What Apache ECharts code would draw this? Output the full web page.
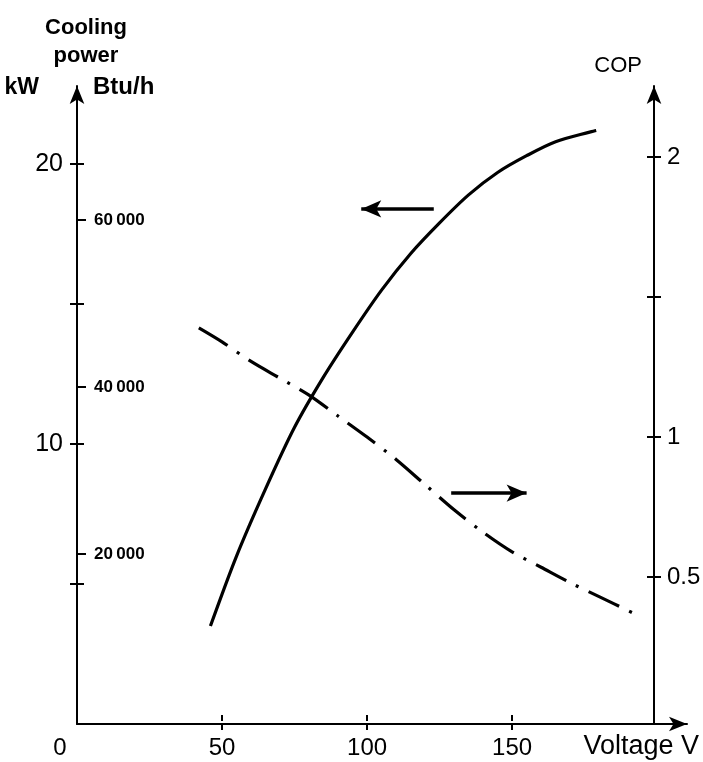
<!DOCTYPE html>
<html>
<head>
<meta charset="utf-8">
<script src="https://cdn.jsdelivr.net/npm/echarts@6/dist/echarts.min.js"></script>
<style>
  html, body { margin: 0; padding: 0; background: #fff; }
  #chart { width: 703px; height: 762px; }
</style>
</head>
<body>
<div id="chart"></div>
<script>
// cooling power (kW) vs voltage
const powerVoltage = [46, 55, 65, 75, 85, 95, 105, 115, 125, 135, 145, 155, 165, 179];
const powerKW = [3.5, 6.0, 8.4, 10.6, 12.4, 14.0, 15.5, 16.8, 17.9, 18.9, 19.7, 20.3, 20.8, 21.2];

// COP vs voltage
const copVoltage = [42, 50, 60, 70, 80, 90, 100, 110, 120, 130, 140, 150, 160, 170, 180, 192];
const copValues = [1.39, 1.34, 1.27, 1.21, 1.15, 1.075, 1.0, 0.92, 0.83, 0.74, 0.66, 0.59, 0.535, 0.48, 0.43, 0.37];

// arrows pointing to each curve's axis: [from V, to V, level]
const powerArrow = [123, 98, 18.4];
const copArrow = [129, 155, 0.80];

const voltageTicks = [50, 100, 150];
const voltageLabels = [0, 50, 100, 150];
const kwTicks = [5, 10, 15, 20];
const kwLabels = [10, 20];
const btuTicks = [20000, 40000, 60000];
const copTicks = [0.5, 1, 1.5, 2];
const copLabels = [0.5, 1, 2];

const FONT = 'Liberation Sans, Arial, sans-serif';
const INK = '#000';

const zip = (xs, ys) => xs.map((x, i) => [x, ys[i]]);

const chart = echarts.init(document.getElementById('chart'));

const lineOnly = { lineStyle: { color: INK, width: 2 } };

chart.setOption({
  animation: false,
  backgroundColor: '#fff',
  title: {
    text: 'Cooling\npower',
    left: 81,
    top: 9,
    textAlign: 'center',
    textStyle: { fontFamily: FONT, fontSize: 22, fontWeight: 'bold', color: INK, lineHeight: 28 }
  },
  grid: { left: 77, right: 16, top: 86, bottom: 38, outerBoundsMode: 'none' },
  xAxis: [
    {
      type: 'value', min: 0, max: 210.3, position: 'bottom',
      splitLine: { show: false },
      axisLine: { show: true, symbol: ['none', 'arrow'], symbolSize: [11, 18], lineStyle: { color: INK, width: 2 } },
      axisTick: { show: true, customValues: voltageTicks, length: 6, ...lineOnly },
      axisLabel: {
        customValues: voltageLabels, margin: 12, color: INK, fontFamily: FONT, fontSize: 24,
        formatter: v => v === 0 ? '{o|0}' : String(v),
        rich: { o: { fontFamily: FONT, fontSize: 24, color: INK, padding: [0, 34, 0, 0] } }
      },
      name: 'Voltage V',
      nameLocation: 'end',
      nameGap: 12,
      nameTextStyle: { fontFamily: FONT, fontSize: 27, color: INK, align: 'right', verticalAlign: 'top', padding: [9, 0, 0, 0] }
    },
    {
      type: 'value', min: 0, max: 210.3, position: 'bottom',
      splitLine: { show: false }, axisLine: { show: false }, axisLabel: { show: false },
      axisTick: { show: true, inside: true, customValues: voltageTicks, length: 6, ...lineOnly }
    }
  ],
  yAxis: [
    {
      type: 'value', min: 0, max: 22.79, position: 'left',
      splitLine: { show: false },
      axisLine: { show: true, symbol: ['none', 'arrow'], symbolSize: [11, 18], lineStyle: { color: INK, width: 2 } },
      axisTick: { show: true, customValues: kwTicks, length: 7, ...lineOnly },
      axisLabel: { customValues: kwLabels, margin: 14, color: INK, fontFamily: FONT, fontSize: 25 },
      name: 'kW',
      nameLocation: 'end',
      nameGap: -13,
      nameTextStyle: { fontFamily: FONT, fontSize: 23, fontWeight: 'bold', color: INK, align: 'right', padding: [0, 38, 0, 0] }
    },
    {
      type: 'value', min: -360, max: 76048, position: 'left',
      splitLine: { show: false }, axisLine: { show: false },
      axisTick: { show: true, inside: true, customValues: btuTicks, length: 9, ...lineOnly },
      axisLabel: {
        inside: true, customValues: btuTicks, margin: 17, color: INK, fontFamily: FONT, fontSize: 17, fontWeight: 'bold',
        formatter: v => String(v / 1000) + '\u2009000'
      },
      name: 'Btu/h',
      nameLocation: 'end',
      nameGap: -13,
      nameTextStyle: { fontFamily: FONT, fontSize: 24, fontWeight: 'bold', color: INK, align: 'left', padding: [0, 0, 0, 16] }
    },
    {
      type: 'value', min: 0, max: 22.79, position: 'left',
      splitLine: { show: false }, axisLine: { show: false }, axisLabel: { show: false },
      axisTick: { show: true, inside: true, customValues: kwTicks, length: 7, ...lineOnly }
    },
    {
      type: 'value', min: -0.025, max: 2.254, position: 'right', offset: -33,
      splitLine: { show: false },
      axisLine: { show: true, symbol: ['none', 'arrow'], symbolSize: [11, 18], lineStyle: { color: INK, width: 2 } },
      axisTick: { show: true, customValues: copTicks, length: 7, ...lineOnly },
      axisLabel: { customValues: copLabels, margin: 13, color: INK, fontFamily: FONT, fontSize: 24 },
      name: 'COP',
      nameLocation: 'end',
      nameGap: 9,
      nameTextStyle: { fontFamily: FONT, fontSize: 22, color: INK, align: 'right', padding: [0, 12, 0, 0] }
    },
    {
      type: 'value', min: -0.025, max: 2.254, position: 'right', offset: -33,
      splitLine: { show: false }, axisLine: { show: false }, axisLabel: { show: false },
      axisTick: { show: true, inside: true, customValues: copTicks, length: 7, ...lineOnly }
    }
  ],
  series: [
    {
      name: 'Cooling power',
      type: 'line',
      xAxisIndex: 0,
      yAxisIndex: 0,
      data: zip(powerVoltage, powerKW),
      smooth: 0.3,
      showSymbol: false,
      lineStyle: { color: INK, width: 3.2 },
      markLine: {
        silent: true,
        symbol: ['none', 'arrow'],
        symbolSize: [13, 20],
        label: { show: false },
        lineStyle: { color: INK, width: 3.5, type: 'solid' },
        data: [[{ coord: [powerArrow[0], powerArrow[2]] }, { coord: [powerArrow[1], powerArrow[2]] }]]
      }
    },
    {
      name: 'COP',
      type: 'line',
      xAxisIndex: 0,
      yAxisIndex: 3,
      data: zip(copVoltage, copValues),
      smooth: 0.3,
      showSymbol: false,
      lineStyle: { color: INK, width: 3.2, type: [34, 11, 3, 11] },
      markLine: {
        silent: true,
        symbol: ['none', 'arrow'],
        symbolSize: [13, 20],
        label: { show: false },
        lineStyle: { color: INK, width: 3.5, type: 'solid' },
        data: [[{ coord: [copArrow[0], copArrow[2]] }, { coord: [copArrow[1], copArrow[2]] }]]
      }
    }
  ]
});
</script>
</body>
</html>
